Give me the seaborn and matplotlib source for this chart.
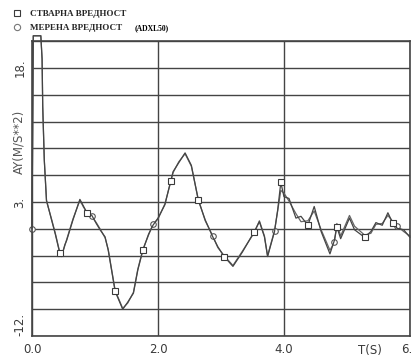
import matplotlib
matplotlib.use("Agg")
import matplotlib.pyplot as plt
import numpy as np
import pandas as pd
import seaborn as sns
from matplotlib.lines import Line2D

# time axis (s) and acceleration AY (m/s**2)
t = [0.0, 0.015, 0.02, 0.14, 0.16, 0.17, 0.195, 0.23, 0.31, 0.37, 0.44, 0.47,
     0.52, 0.55, 0.65, 0.76, 0.82, 0.87, 0.95, 1.02, 1.08, 1.16, 1.21, 1.32,
     1.44, 1.52, 1.61, 1.68, 1.76, 1.85, 1.92, 2.0, 2.11, 2.20, 2.24, 2.33,
     2.43, 2.53, 2.64, 2.75, 2.87, 2.95, 3.05, 3.19, 3.34, 3.53, 3.61, 3.69,
     3.74, 3.85, 3.90, 3.95, 4.0, 4.08, 4.19, 4.27, 4.38, 4.48, 4.59, 4.73,
     4.80, 4.84, 4.90, 5.04, 5.12, 5.28, 5.38, 5.46, 5.56, 5.65, 5.73, 5.80,
     5.90, 6.0]

actual = [0.0, 16.0, 21.6, 21.6, 19.0, 13.7, 7.7, 3.2, 1.0, -0.6, -2.7, -3.1,
          -1.8, -1.3, 1.0, 3.3, 2.5, 1.8, 1.5, 0.6, -0.1, -0.9, -2.4, -7.0,
          -9.0, -8.2, -7.2, -4.6, -2.4, -0.6, 0.4, 1.2, 2.7, 5.3, 6.4, 7.4,
          8.5, 7.1, 3.2, 1.0, -0.9, -2.0, -3.1, -4.2, -2.6, -0.3, 0.8, -0.9,
          -3.1, -0.3, 2.1, 5.2, 3.6, 3.4, 1.2, 1.4, 0.4, 2.5, -0.3, -2.8,
          -1.3, 0.2, -1.1, 1.2, -0.1, -0.95, -0.3, 0.7, 0.4, 1.8, 0.6, 0.05,
          -0.1, -0.95]

measured = [0.0, 16.0, 21.6, 21.6, 19.0, 13.7, 7.7, 3.1, 1.1, -0.5, -2.6, -3.0,
            -1.9, -1.2, 1.1, 3.2, 2.4, 1.9, 1.4, 0.7, 0.0, -1.0, -2.3, -6.9,
            -8.9, -8.3, -7.1, -4.5, -2.3, -0.7, 0.5, 1.1, 2.8, 5.2, 6.3, 7.5,
            8.4, 7.0, 3.3, 0.9, -0.8, -2.1, -3.0, -4.1, -2.5, -0.4, 0.9, -0.8,
            -3.0, -0.2, 2.0, 4.3, 4.0, 3.1, 1.7, 0.8, 0.9, 2.0, -0.1, -2.4,
            -1.5, 0.6, -0.8, 1.5, 0.3, -0.7, -0.5, 0.5, 0.6, 1.5, 0.8, 0.3,
            -0.3, -0.8]

square_times = [0.44, 0.87, 1.32, 1.76, 2.20, 2.64, 3.05, 3.53, 3.95, 4.38,
                4.84, 5.28, 5.73]
circle_times = [0.0, 0.95, 1.92, 2.87, 3.85, 4.80, 5.80]

legend_labels = ["СТВАРНА ВРЕДНОСТ", "МЕРЕНА ВРЕДНОСТ"]

df = pd.DataFrame({"t": t, "actual": actual, "measured": measured})

sns.set_style("white")
plt.rcParams["font.family"] = ["DejaVu Sans"]

fig = plt.figure(figsize=(4.12, 3.61), dpi=100)
ax = fig.add_axes([0.0777, 0.069, 0.9173, 0.817])

ink = "#3a3a3a"
sq_idx = list(np.where(np.isin(df["t"], square_times))[0])
ci_idx = list(np.where(np.isin(df["t"], circle_times))[0])

sns.lineplot(data=df, x="t", y="measured", ax=ax, estimator=None, color="#666666",
             linewidth=0.9, marker="o", markevery=ci_idx, markersize=4,
             markerfacecolor="white", markeredgecolor="#555555", markeredgewidth=0.8,
             clip_on=False)
sns.lineplot(data=df, x="t", y="actual", ax=ax, estimator=None, color="#444444",
             linewidth=0.9, marker="s", markevery=sq_idx, markersize=4,
             markerfacecolor="white", markeredgecolor=ink, markeredgewidth=0.8,
             clip_on=False)

ax.set_xlim(0, 6)
ax.set_ylim(-12, 21)
ax.set_xlabel("")
ax.set_ylabel("")

ax.set_xticks([0, 2, 4, 6])
ax.set_xticklabels(["0.0", "2.0", "4.0", "6.0"], fontsize=8.5, color=ink)
ax.set_xticks(np.arange(0, 6.01, 0.4), minor=True)
ax.tick_params(axis="x", which="major", length=0, pad=5)
ax.tick_params(axis="x", which="minor", direction="in", length=3, width=1, color=ink)

yt = list(range(-12, 22, 3))
ax.set_yticks(yt)
ax.set_yticklabels(["-12." if v == -12 else "3." if v == 3 else "18." if v == 18 else ""
                    for v in yt], rotation=90, fontsize=8.5, color=ink, va="center")
ax.tick_params(axis="y", length=0, pad=4)
for lab in ax.get_yticklabels():
    if lab.get_text() == "-12.":
        lab.set_va("bottom")

ax.grid(True, axis="y", color="#444444", linewidth=1.0)
ax.grid(True, axis="x", color="#444444", linewidth=1.0)
for s in ax.spines.values():
    s.set_color("#444444")
    s.set_linewidth(1.2)

ax.text(-0.035, 0.66, "AY(M/S**2)", rotation=90, transform=ax.transAxes,
        ha="center", va="center", fontsize=8.5, color="#555555")
ax.text(0.895, -0.05, "T(S)", transform=ax.transAxes, ha="center", va="center",
        fontsize=8.5, color=ink)

handles = [
    Line2D([], [], linestyle="none", marker="s", markersize=4.5,
           markerfacecolor="white", markeredgecolor=ink, markeredgewidth=0.8),
    Line2D([], [], linestyle="none", marker="o", markersize=4.5,
           markerfacecolor="white", markeredgecolor="#777777", markeredgewidth=0.8),
]
fig.legend(handles, legend_labels, loc="upper left", bbox_to_anchor=(0.028, 0.972),
           bbox_transform=fig.transFigure, frameon=False, handlelength=1.2,
           handletextpad=0.9, borderpad=0, borderaxespad=0, labelspacing=0.6,
           prop={"family": "Liberation Serif", "weight": "bold", "size": 6.5})
fig.text(135 / 412, 1 - 28 / 361, "(ADXL50)", family="Liberation Serif",
         weight="bold", fontsize=5.5, va="center", ha="left", color="black")

fig.savefig("out.png", dpi=100)
